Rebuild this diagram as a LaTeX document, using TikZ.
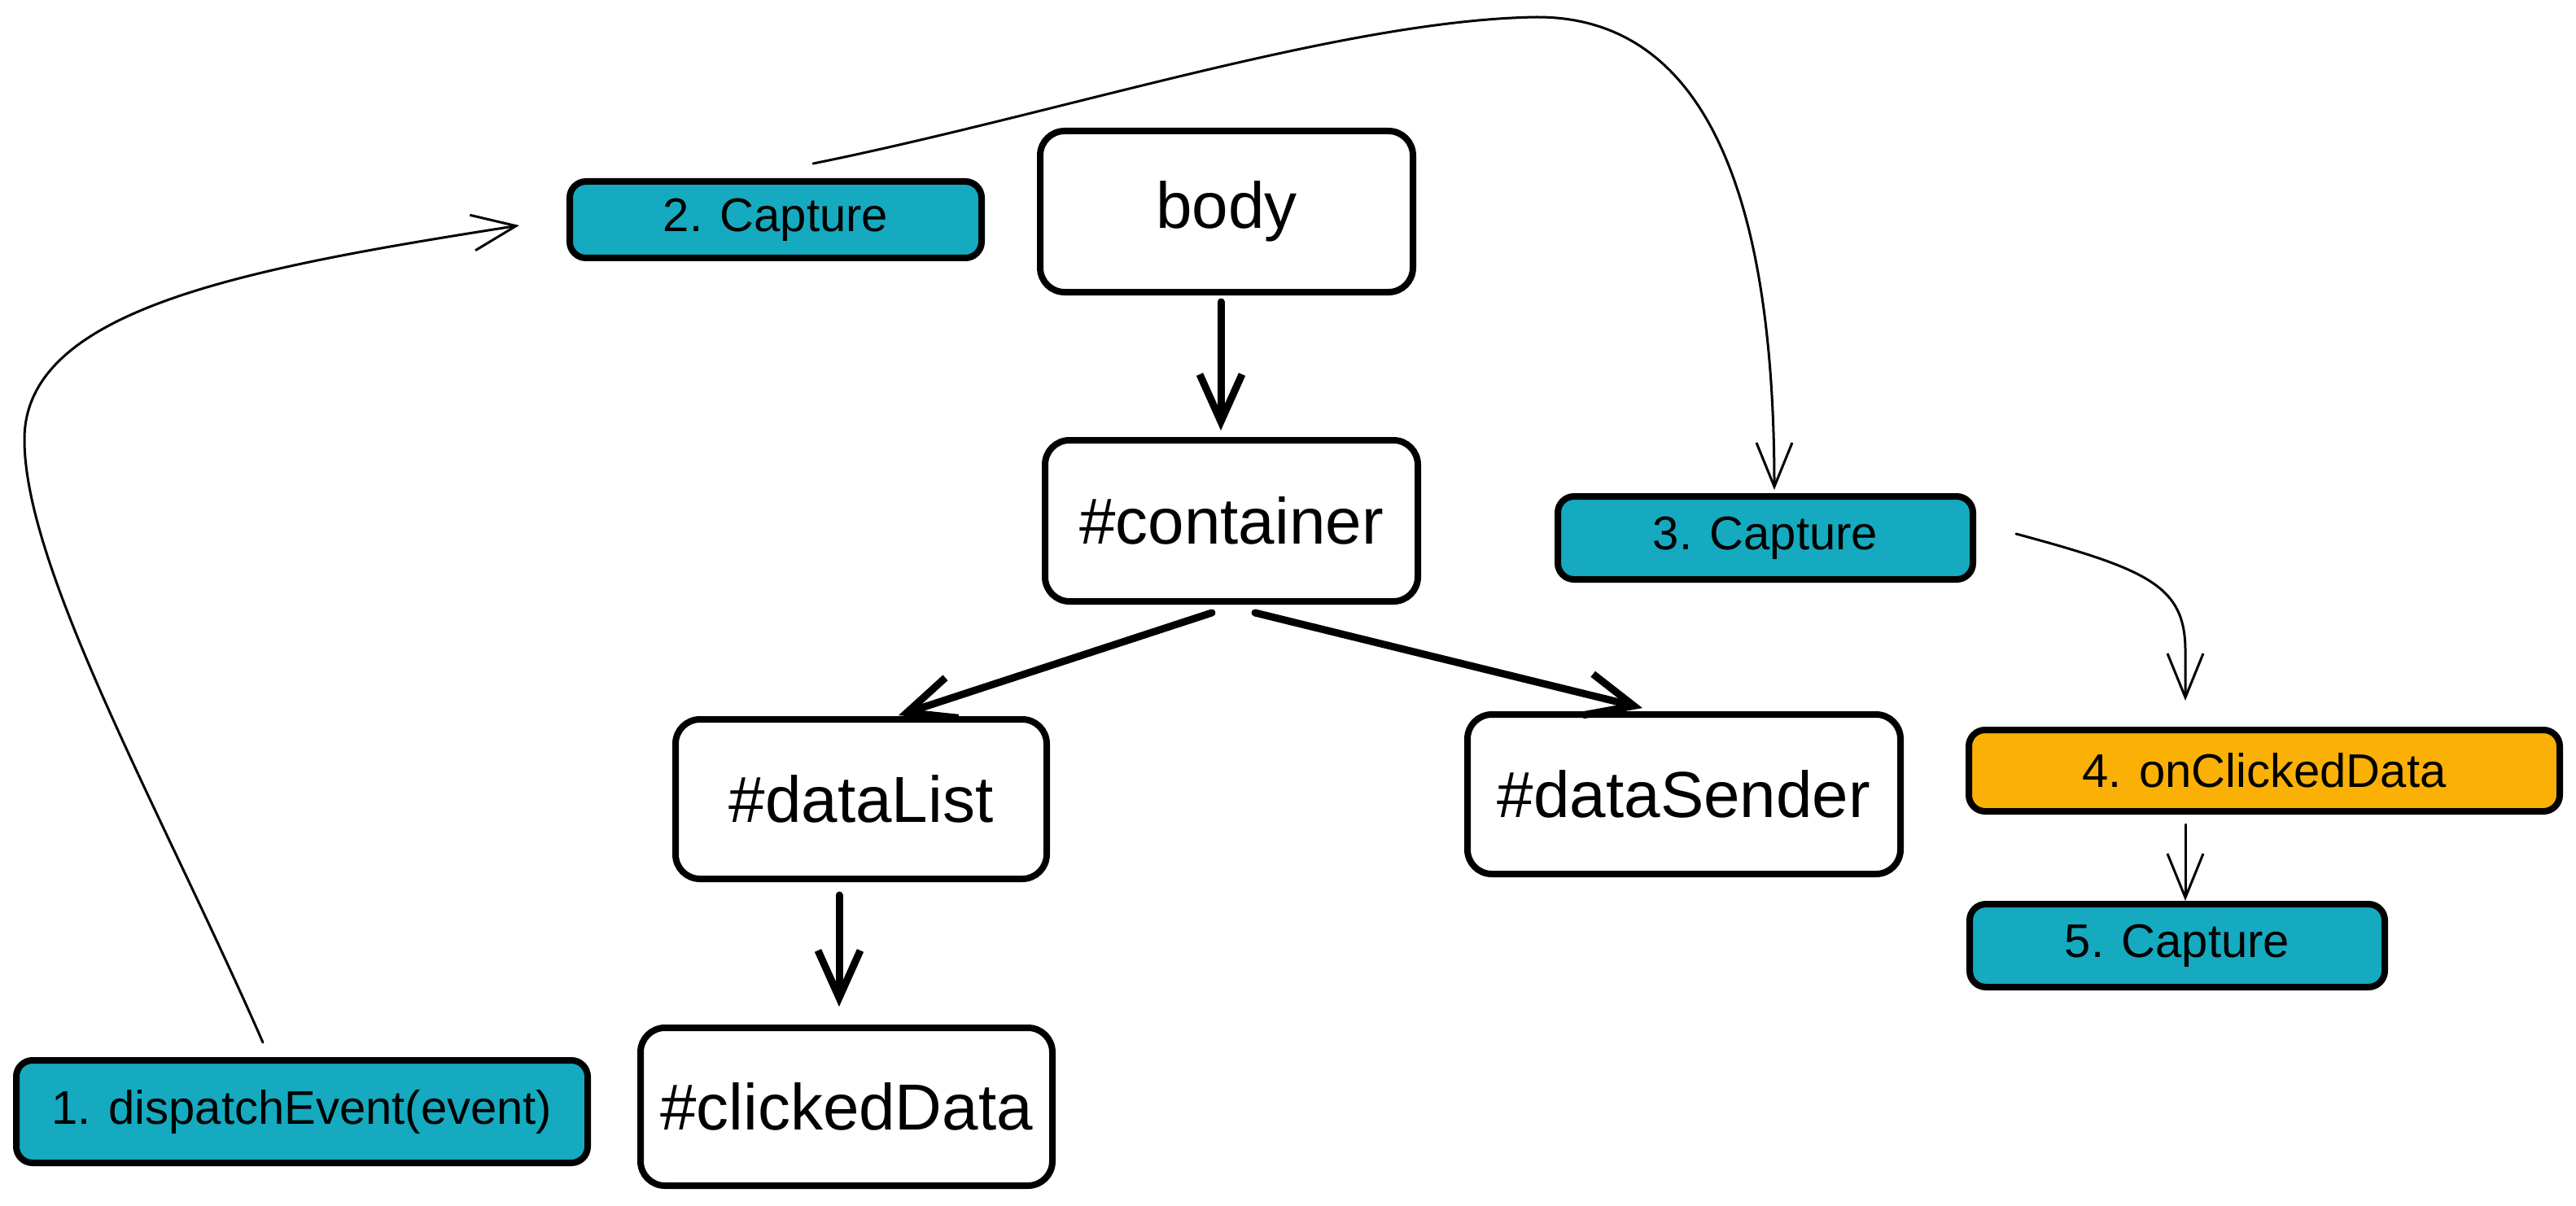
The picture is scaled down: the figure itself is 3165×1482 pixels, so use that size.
\documentclass[tikz,border=0pt]{standalone}
\usepackage{fontspec}
\setmainfont{Liberation Sans}
\usetikzlibrary{arrows.meta,calc}
\definecolor{tealbox}{HTML}{15AABF}
\definecolor{orangebox}{HTML}{FAB005}
\tikzset{
  bigbox/.style={draw=black, line width=4pt, rounded corners=15pt, fill=white,
    font=\fontsize{40}{46}\selectfont, inner sep=0pt},
  smallbox/.style={draw=black, line width=4pt, rounded corners=10pt, fill=tealbox,
    font=\fontsize{29}{34}\selectfont, inner sep=0pt},
  thickarrow/.style={line width=4.5pt, line cap=round, line join=round,
    -{Straight Barb[length=29pt,width=26pt]}},
  thinarrow/.style={line width=1.5pt, line cap=round,
    -{Straight Barb[length=27pt,width=22pt]}}
}
\begin{document}
\begin{tikzpicture}[x=0.5pt,y=-0.5pt]
\useasboundingbox (0,0) rectangle (3165,1482);
% nodes
\node[smallbox, minimum width=253pt, minimum height=47pt] (n2) at (953,270) {2. Capture};
\node[bigbox, minimum width=229pt, minimum height=99pt] (body) at (1507,260) {body};
\node[bigbox, minimum width=229pt, minimum height=99pt] (cont) at (1513,640) {\#container};
\node[bigbox, minimum width=228pt, minimum height=98pt] (dlist) at (1058,982) {\#dataList};
\node[bigbox, minimum width=266pt, minimum height=98pt] (dsend) at (2069,976) {\#dataSender};
\node[bigbox, minimum width=253pt, minimum height=97pt] (click) at (1040,1360) {\#clickedData};
\node[smallbox, minimum width=351pt, minimum height=63pt] (n1) at (371,1366) {1. dispatchEvent(event)};
\node[smallbox, minimum width=255pt, minimum height=51pt] (n3) at (2169,661) {3. Capture};
\node[smallbox, fill=orangebox, minimum width=363pt, minimum height=50pt] (n4) at (2782,947) {4. onClickedData};
\node[smallbox, minimum width=255pt, minimum height=51pt] (n5) at (2675,1162) {5. Capture};
% thick tree arrows
\draw[thickarrow] ($(body.south)+(-7,8)$) -- ($(cont.north)+(-13,-8)$);
\draw[thickarrow] ($(cont.south)+(-24,10)$) -- ($(dlist.north)+(46,-1)$);
\draw[thickarrow] ($(cont.south)+(29,10)$) -- ($(dsend.north)+(-51,-4)$);
\draw[thickarrow] ($(dlist.south)+(-27,16)$) -- ($(click.north)+(-9,-22)$);
% thin flow arrows
\draw[thinarrow] ($(n1.north)+(-48,-18)$) .. controls (200,1000) and (30,700) .. (30,540)
  .. controls (30,380) and (300,330) .. ($(n2.west)+(-58,7)$);
\draw[thinarrow] ($(n2.north)+(46,-18)$) .. controls (1300,140) and (1650,25) .. (1887,21)
  .. controls (2100,20) and (2180,250) .. ($(n3.north)+(11,-4)$);
\draw[thinarrow] ($(n3.east)+(49,-5)$) .. controls (2640,700) and (2685,720) .. (2685,800)
  -- ($(n4.north)+(-97,-32)$);
\draw[thinarrow] ($(n4.south)+(-97,12)$) -- ($(n5.north)+(10,0)$);
\end{tikzpicture}
\end{document}
